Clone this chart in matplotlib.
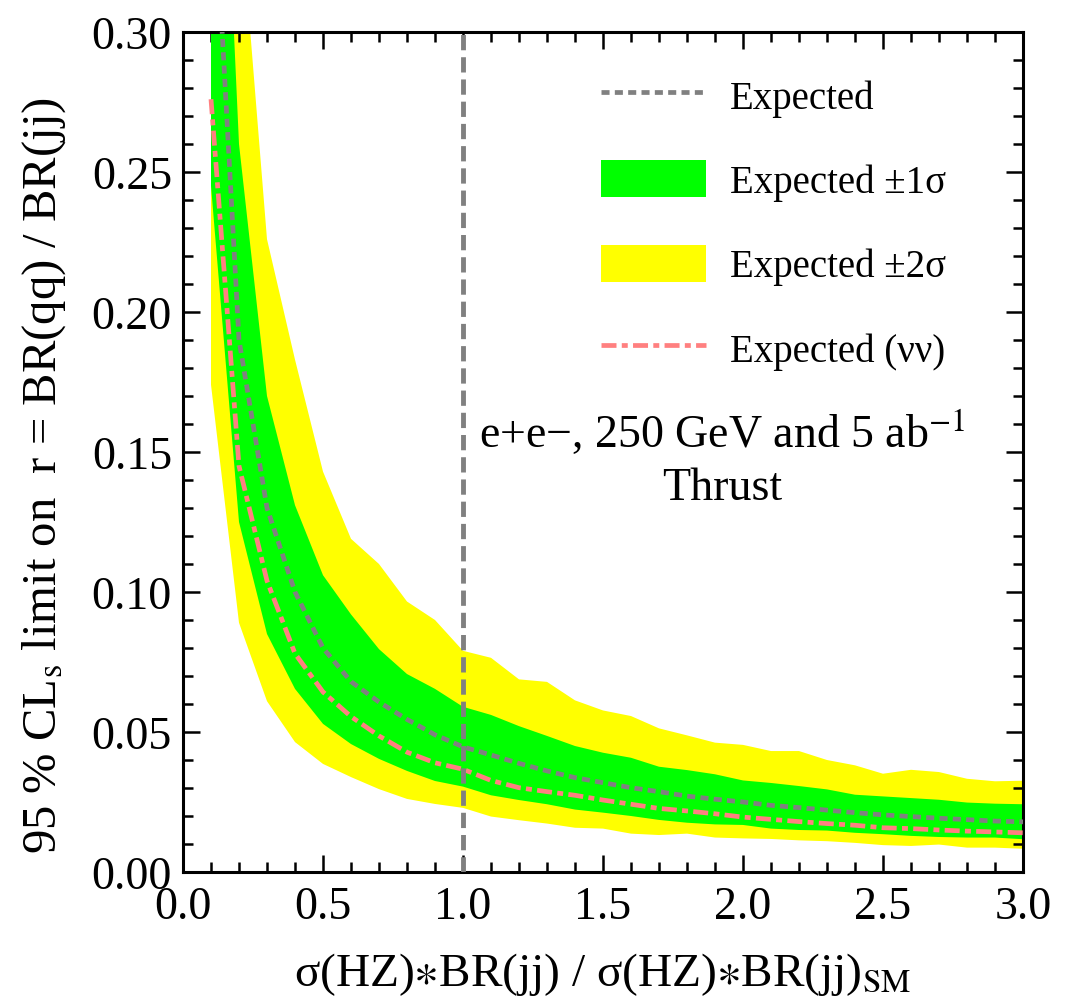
import matplotlib
matplotlib.use("Agg")
import matplotlib.pyplot as plt
from matplotlib.lines import Line2D
from matplotlib.patches import Patch

plt.rcParams['font.family'] = ['Liberation Serif', 'DejaVu Serif']
plt.rcParams['mathtext.fontset'] = 'stix'
plt.rcParams['lines.scale_dashes'] = False

# ---- data ----
mu = [0.1, 0.2, 0.3, 0.4, 0.5, 0.6, 0.7, 0.8, 0.9, 1.0,
      1.1, 1.2, 1.3, 1.4, 1.5, 1.6, 1.7, 1.8, 1.9, 2.0,
      2.1, 2.2, 2.3, 2.4, 2.5, 2.6, 2.7, 2.8, 2.9, 3.0]
expected = [0.373, 0.190, 0.130, 0.100, 0.080, 0.068, 0.0607, 0.0545, 0.049, 0.0447,
            0.0418, 0.0388, 0.0361, 0.0337, 0.0319, 0.0301, 0.0287, 0.0271, 0.0260, 0.0250,
            0.0238, 0.0230, 0.0221, 0.0212, 0.0204, 0.0198, 0.0192, 0.0187, 0.0182, 0.0179]
expected_nunu = [0.276, 0.145, 0.104, 0.078, 0.0643, 0.0555, 0.0486, 0.0428, 0.039, 0.0367,
                 0.0327, 0.0301, 0.0287, 0.0274, 0.0257, 0.0242, 0.0227, 0.0218, 0.0208, 0.0196,
                 0.0188, 0.0180, 0.0173, 0.0167, 0.0158, 0.0155, 0.0150, 0.0146, 0.0143, 0.0140]
sig1_lo = [0.245, 0.125, 0.085, 0.0654, 0.0529, 0.0457, 0.0404, 0.0361, 0.0325, 0.0305,
           0.0274, 0.0257, 0.0242, 0.0223, 0.0212, 0.0200, 0.0186, 0.0176, 0.0170, 0.0168,
           0.0155, 0.0150, 0.0148, 0.0140, 0.0135, 0.0129, 0.0125, 0.0123, 0.0123, 0.0117]
sig1_hi = [0.48, 0.26, 0.170, 0.131, 0.106, 0.092, 0.0796, 0.0707, 0.0654, 0.0590,
           0.0561, 0.0521, 0.0486, 0.0450, 0.0426, 0.0408, 0.0376, 0.0364, 0.0349, 0.0327,
           0.0318, 0.0307, 0.0295, 0.0276, 0.0270, 0.0264, 0.0258, 0.0248, 0.0244, 0.0242]
sig2_lo = [0.174, 0.089, 0.061, 0.0464, 0.0386, 0.0339, 0.0296, 0.0261, 0.0243, 0.0229,
           0.0198, 0.0185, 0.0173, 0.0158, 0.0155, 0.0137, 0.0132, 0.0137, 0.0123, 0.0120,
           0.0118, 0.0113, 0.0110, 0.0104, 0.0096, 0.0093, 0.0098, 0.0087, 0.0087, 0.0083]
sig2_hi = [0.60, 0.35, 0.226, 0.183, 0.143, 0.119, 0.110, 0.0966, 0.0900, 0.0790,
           0.0765, 0.0688, 0.0679, 0.0613, 0.0577, 0.0557, 0.0513, 0.0488, 0.0462, 0.0454,
           0.0432, 0.0432, 0.0400, 0.0381, 0.0351, 0.0365, 0.0357, 0.0333, 0.0324, 0.0326]
sm_point = 1.0

xticks = [0.0, 0.5, 1.0, 1.5, 2.0, 2.5, 3.0]
yticks = [0.00, 0.05, 0.10, 0.15, 0.20, 0.25, 0.30]

GREEN = '#00FF00'
YELLOW = '#FFFF00'
GREY = '#808080'
SALMON = '#FF8080'

GREY_DASH = (5.8, 3.8)
SALMON_DASH = (10.8, 3.8, 4.3, 3.8)

fig = plt.figure(figsize=(10.8, 10.03), dpi=100)
ax = fig.add_axes([183/1080, 1 - 873/1003, 840/1080, 840/1003])

ax.fill_between(mu, sig2_lo, sig2_hi, color=YELLOW, lw=0, zorder=1)
ax.fill_between(mu, sig1_lo, sig1_hi, color=GREEN, lw=0, zorder=2)
ax.plot(mu, expected, color=GREY, lw=3.4, dashes=GREY_DASH, solid_capstyle='butt',
        dash_capstyle='butt', zorder=3)
ax.plot(mu, expected_nunu, color=SALMON, lw=3.4, dashes=SALMON_DASH,
        dash_capstyle='butt', zorder=4)
ax.axvline(sm_point, color=GREY, lw=3.5, dashes=(11.0, 5.0), dash_capstyle='butt', zorder=5)

ax.set_xlim(0, 3.0)
ax.set_ylim(0, 0.30)
ax.set_xticks(xticks)
ax.set_xticklabels([f'{v:.1f}' for v in xticks])
ax.set_yticks(yticks)
ax.set_yticklabels([f'{v:.2f}' for v in yticks])
ax.set_xticks([i / 10 for i in range(31)], minor=True)
ax.set_yticks([i / 100 for i in range(31)], minor=True)
ax.tick_params(which='both', direction='in', top=True, right=True, width=1.8, colors='black')
ax.tick_params(which='major', length=12, labelsize=33, pad=8)
ax.tick_params(which='minor', length=7)
ax.tick_params(axis='x', which='major', pad=10)
for sp in ax.spines.values():
    sp.set_linewidth(2.2)

ax.set_xlabel('σ(HZ)$\\ast$BR(jj) / σ(HZ)$\\ast$BR(jj)$_\\mathrm{SM}$', fontsize=34)
ax.xaxis.set_label_coords(0.5, -0.093)
ax.set_ylabel('95 % CL$_\\mathrm{s}$ limit on  r = BR(qq) / BR(jj)', fontsize=35)
ax.yaxis.set_label_coords(-0.137, 0.473)

ax.text(0.6417, 0.507, 'e+e\u2212, 250 GeV and 5 ab$^{\u22121}$', transform=ax.transAxes,
        fontsize=33, ha='center', va='baseline', zorder=6)
ax.text(0.6417, 0.444, 'Thrust', transform=ax.transAxes,
        fontsize=33, ha='center', va='baseline', zorder=6)

handles = [
    Line2D([], [], color=GREY, lw=3.4, dashes=GREY_DASH, dash_capstyle='butt'),
    Patch(facecolor=GREEN, edgecolor='none'),
    Patch(facecolor=YELLOW, edgecolor='none'),
    Line2D([], [], color=SALMON, lw=3.4, dashes=SALMON_DASH, dash_capstyle='butt'),
]
labels = ['Expected', 'Expected ±1σ', 'Expected ±2σ', 'Expected (νν)']
ax.legend(handles, labels, loc='upper left', bbox_to_anchor=(0.4976, 0.948),
          frameon=False, fontsize=28, handlelength=2.7, handleheight=1.1,
          labelspacing=1.12, handletextpad=0.62, borderpad=0, borderaxespad=0)

fig.savefig('out.png', dpi=100)
